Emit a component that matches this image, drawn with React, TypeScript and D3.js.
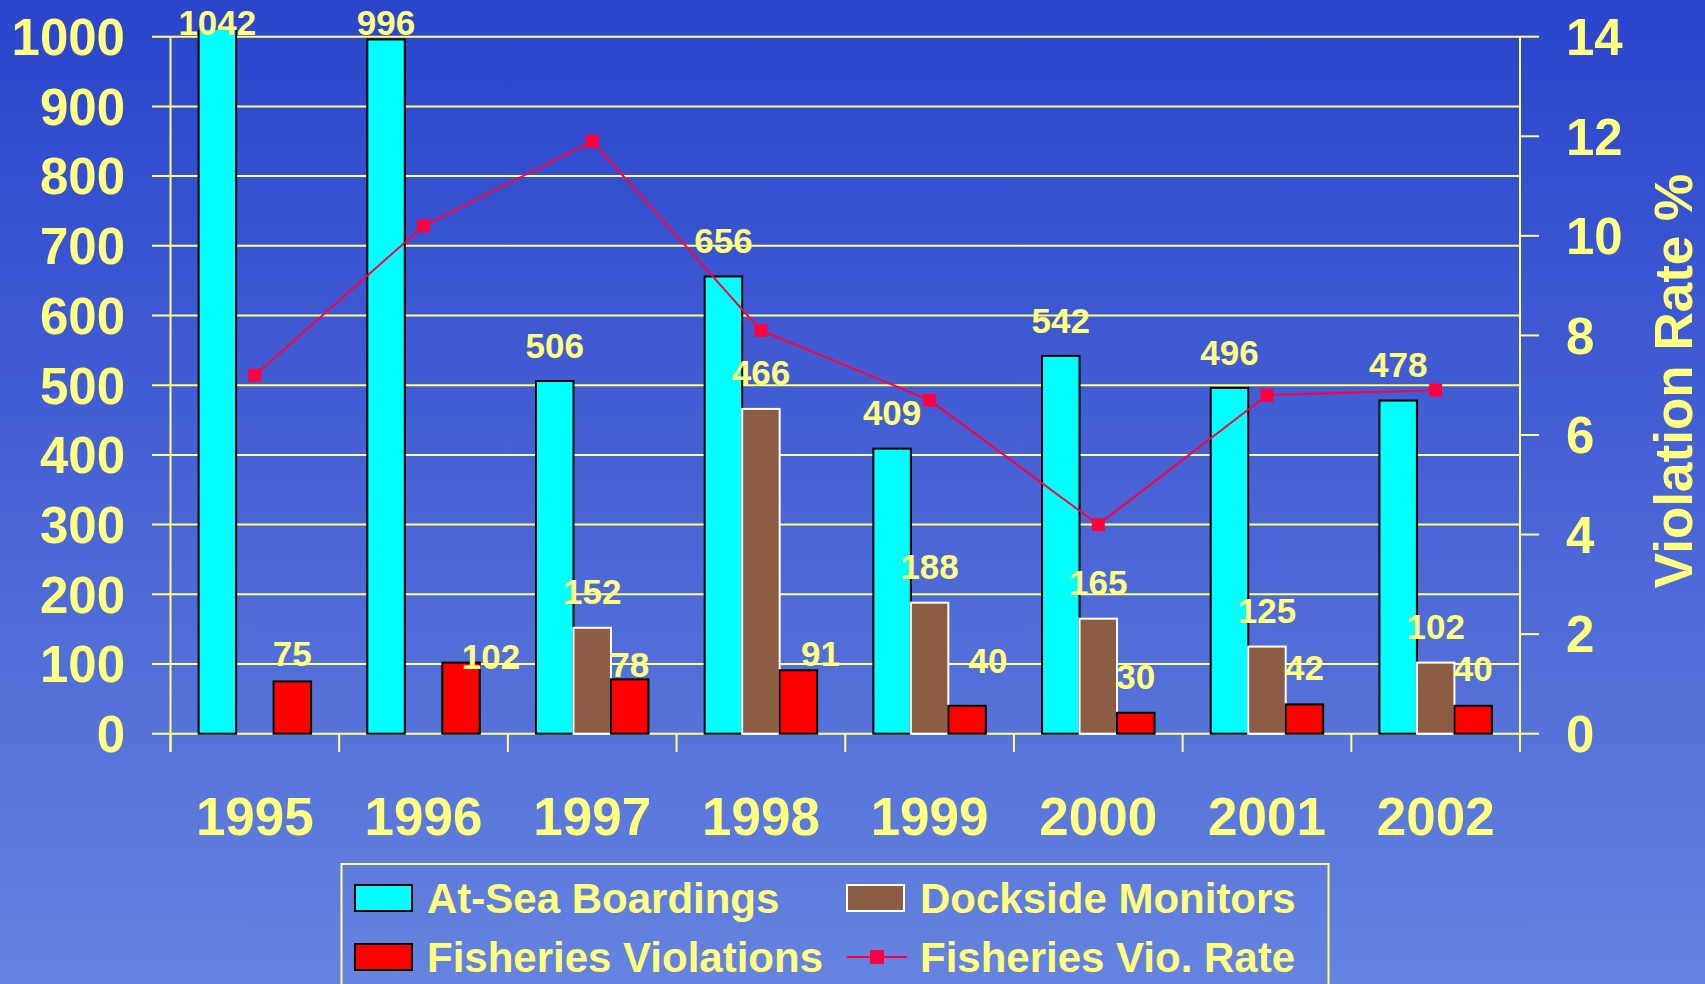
import React, { useEffect } from 'react';
import * as d3 from 'd3';

// chart data
const years = ['1995', '1996', '1997', '1998', '1999', '2000', '2001', '2002'];
const atSeaBoardings = [1042, 996, 506, 656, 409, 542, 496, 478];
const docksideMonitors: (number | null)[] = [null, null, 152, 466, 188, 165, 125, 102];
const fisheriesViolations = [75, 102, 78, 91, 40, 30, 42, 40];
const vioRate = [7.2, 10.2, 11.9, 8.1, 6.7, 4.2, 6.8, 6.9];
const leftTicks = [0, 100, 200, 300, 400, 500, 600, 700, 800, 900, 1000];
const rightTicks = [0, 2, 4, 6, 8, 10, 12, 14];

// the violation labels were moved by hand in the original: [dx, rise above bar]
const violationLabelNudge = [[0, 28], [30, 6], [0, 15], [22, 17], [21, 45], [0, 36], [0, 37], [0, 37]];

const W = 1705;
const H = 984;
const YELLOW = '#FFFF80';
const FONT = '"Liberation Sans", Arial, Helvetica, sans-serif';

const App: React.FC = () => {
  useEffect(() => {
    document.body.style.margin = '0';
    document.body.style.overflow = 'hidden';
  }, []);

  const left = 170.5;
  const right = 1520;
  const yZero = 733.7;
  const yTop = 36.7;

  const x = d3.scaleBand<string>().domain(years).range([left, right]).padding(0);
  const sub = d3.scaleBand<string>()
    .domain(['sea', 'dock', 'vio'])
    .range([0, x.bandwidth()])
    .paddingInner(0)
    .paddingOuter(0.75);
  const y = d3.scaleLinear().domain([0, 1000]).range([yZero, yTop]);
  const yR = d3.scaleLinear().domain([0, 14]).range([yZero, yTop]);

  const bw = sub.bandwidth();
  const line = d3.line<number>()
    .x((_, i) => x(years[i])! + x.bandwidth() / 2)
    .y(d => yR(d));

  const labelY = (v: number, rise = 36) => Math.max(22, y(v) - rise);

  return (
    <svg width={W} height={H} style={{ display: 'block' }}>
      <defs>
        <linearGradient id="bg" x1="0" y1="0" x2="0" y2="1">
          <stop offset="0%" stopColor="#2A44CC" />
          <stop offset="100%" stopColor="#6583DF" />
        </linearGradient>
        <clipPath id="plot-clip">
          <rect x={left} y={y(1010)} width={right - left} height={yZero - y(1010) + 2} />
        </clipPath>
      </defs>
      <rect width={W} height={H} fill="url(#bg)" />

      {/* gridlines and left ticks */}
      <g>
        {leftTicks.map(t => (
          <line key={t} x1={152} x2={right} y1={y(t)} y2={y(t)} stroke={YELLOW} strokeWidth={2} />
        ))}
        {rightTicks.map(t => (
          <line key={t} x1={right} x2={1539} y1={yR(t)} y2={yR(t)} stroke={YELLOW} strokeWidth={2} />
        ))}
        <line x1={left} x2={left} y1={yTop} y2={752} stroke={YELLOW} strokeWidth={2} />
        <line x1={right} x2={right} y1={yTop} y2={752} stroke={YELLOW} strokeWidth={2} />
        {years.map(yr => (
          <line key={yr} x1={x(yr)!} x2={x(yr)!} y1={yZero} y2={752} stroke={YELLOW} strokeWidth={2} />
        ))}
      </g>

      {/* bars */}
      <g clipPath="url(#plot-clip)">
        {years.map((yr, i) => {
          const bx = x(yr)!;
          const dock = docksideMonitors[i];
          return (
            <g key={yr}>
              <rect x={bx + sub('sea')!} y={y(atSeaBoardings[i])} width={bw} height={yZero - y(atSeaBoardings[i])}
                fill="#00FFFF" stroke="#000" strokeWidth={2} />
              {dock !== null && (
                <rect x={bx + sub('dock')!} y={y(dock)} width={bw} height={yZero - y(dock)}
                  fill="#8C5D42" stroke="#fff" strokeWidth={2} />
              )}
              <rect x={bx + sub('vio')!} y={y(fisheriesViolations[i])} width={bw} height={yZero - y(fisheriesViolations[i])}
                fill="#FF0000" stroke="#000" strokeWidth={2} />
            </g>
          );
        })}
      </g>

      {/* violation rate line */}
      <path d={line(vioRate)!} fill="none" stroke="#FF0040" strokeWidth={2} />
      {vioRate.map((v, i) => (
        <rect key={i} x={x(years[i])! + x.bandwidth() / 2 - 6.5} y={yR(v) - 6.5} width={13} height={13} fill="#FF0040" />
      ))}

      {/* data labels */}
      <g fontFamily={FONT} fontWeight="bold" fontSize={35} fill={YELLOW} textAnchor="middle">
        {years.map((yr, i) => {
          const bx = x(yr)!;
          const dock = docksideMonitors[i];
          const [ndx, rise] = violationLabelNudge[i];
          return (
            <g key={yr}>
              <text x={bx + sub('sea')! + bw / 2} y={labelY(atSeaBoardings[i])} dy="0.36em">{atSeaBoardings[i]}</text>
              {dock !== null && (
                <text x={bx + sub('dock')! + bw / 2} y={labelY(dock)} dy="0.36em">{dock}</text>
              )}
              <text x={bx + sub('vio')! + bw / 2 + ndx} y={labelY(fisheriesViolations[i], rise)} dy="0.36em">
                {fisheriesViolations[i]}
              </text>
            </g>
          );
        })}
      </g>

      {/* axis labels */}
      <g fontFamily={FONT} fontWeight="bold" fill={YELLOW}>
        {leftTicks.map(t => (
          <text key={t} x={125} y={y(t)} dy="0.36em" fontSize={51} textAnchor="end">{t}</text>
        ))}
        {rightTicks.map(t => (
          <text key={t} x={1566} y={yR(t)} dy="0.36em" fontSize={51} textAnchor="start">{t}</text>
        ))}
        {years.map(yr => (
          <text key={yr} x={x(yr)! + x.bandwidth() / 2} y={835} fontSize={53} textAnchor="middle">{yr}</text>
        ))}
        <text transform="translate(1692,381) rotate(-90)" fontSize={53} textAnchor="middle">Violation Rate %</text>
      </g>

      {/* legend */}
      <g fontFamily={FONT} fontWeight="bold" fill={YELLOW} fontSize={42}>
        <rect x={341.5} y={864} width={987} height={160} fill="none" stroke={YELLOW} strokeWidth={2} />
        <rect x={355} y={885} width={57} height={26} fill="#00FFFF" stroke="#000" strokeWidth={2} />
        <text x={427} y={898} dy="0.36em">At-Sea Boardings</text>
        <rect x={847} y={885} width={57} height={26} fill="#8C5D42" stroke="#fff" strokeWidth={2} />
        <text x={920} y={898} dy="0.36em">Dockside Monitors</text>
        <rect x={355} y={944} width={57} height={26} fill="#FF0000" stroke="#000" strokeWidth={2} />
        <text x={427} y={957} dy="0.36em">Fisheries Violations</text>
        <line x1={847} x2={907} y1={957} y2={957} stroke="#FF0040" strokeWidth={2} />
        <rect x={870} y={950} width={14} height={14} fill="#FF0040" />
        <text x={920} y={957} dy="0.36em">Fisheries Vio. Rate</text>
      </g>
    </svg>
  );
};

export default App;
